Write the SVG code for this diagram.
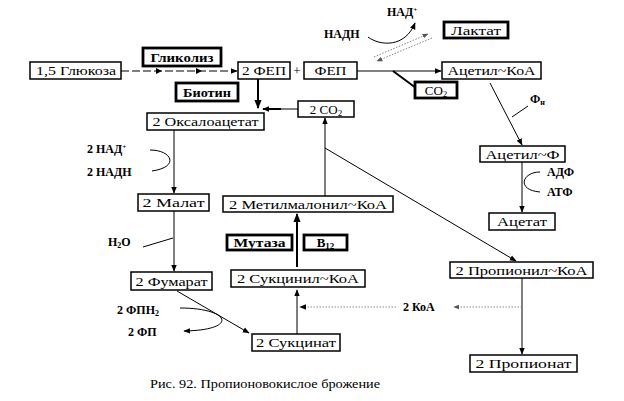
<svg xmlns="http://www.w3.org/2000/svg" width="624" height="401" viewBox="0 0 624 401">
<defs>
<marker id="ah" viewBox="0 0 10 10" refX="9" refY="5" markerWidth="7" markerHeight="7" markerUnits="userSpaceOnUse" orient="auto"><path d="M0,1 L10,5 L0,9 z" fill="#000"/></marker>
<marker id="ahb" viewBox="0 0 10 10" refX="9" refY="5" markerWidth="9" markerHeight="9" markerUnits="userSpaceOnUse" orient="auto"><path d="M0,1 L10,5 L0,9 z" fill="#000"/></marker>
<marker id="ahg" viewBox="0 0 10 10" refX="9" refY="5" markerWidth="6" markerHeight="6" markerUnits="userSpaceOnUse" orient="auto"><path d="M0,1 L10,5 L0,9 z" fill="#555"/></marker>
</defs>
<style>
.b{fill:#fff;stroke:#000;stroke-width:1.5}
.bb{fill:#fff;stroke:#000;stroke-width:2.8}
.t{font-family:"Liberation Serif","Times New Roman",serif;font-size:13px;fill:#000}
.tb{font-family:"Liberation Serif","Times New Roman",serif;font-size:13px;font-weight:bold;fill:#000}
.l{font-family:"Liberation Serif","Times New Roman",serif;font-size:12px;font-weight:bold;fill:#000}
.cap{font-family:"Liberation Serif","Times New Roman",serif;font-size:12.5px;fill:#000}
.c{fill:none;stroke:#000;stroke-width:1}
.ct{fill:none;stroke:#000;stroke-width:2}
.cg{fill:none;stroke:#888;stroke-width:1;stroke-dasharray:1.5 1.5}
</style>
<rect width="624" height="401" fill="#fff"/>
<g id="connectors">
<line class="c" x1="121" y1="71" x2="237" y2="71" stroke-dasharray="8 3" marker-end="url(#ah)"/>
<path d="M156,68 L162,71 L156,74 z M196,68 L202,71 L196,74 z" fill="#000"/>
<line class="ct" x1="258" y1="79" x2="258" y2="108" marker-end="url(#ahb)"/>
<line class="c" x1="298" y1="109" x2="280" y2="109"/>
<line class="ct" x1="281" y1="109" x2="263" y2="109" marker-end="url(#ah)"/>
<line class="c" x1="357" y1="71" x2="441" y2="71" marker-end="url(#ah)"/>
<line class="ct" x1="393" y1="71" x2="416" y2="88"/>
<path class="c" d="M368,37 C380,46 405,48 415,23" marker-end="url(#ah)"/>
<line class="cg" x1="374" y1="57" x2="428" y2="34" marker-end="url(#ahg)"/>
<line class="cg" x1="432" y1="38" x2="377" y2="61" marker-end="url(#ahg)"/>
<line class="c" x1="490" y1="83" x2="522" y2="145" marker-end="url(#ah)"/>
<line class="c" x1="512" y1="117" x2="528" y2="106"/>
<line class="c" x1="522" y1="162" x2="522" y2="212" marker-end="url(#ah)"/>
<path class="c" d="M540,172 C522,172 516,190 540,192"/>
<line class="c" x1="174" y1="130" x2="174" y2="193" marker-end="url(#ah)"/>
<path class="c" d="M150,150 C172,150 180,167 152,171"/>
<line class="c" x1="174" y1="211" x2="174" y2="271" marker-end="url(#ah)"/>
<line class="c" x1="143" y1="247" x2="173" y2="238"/>
<line class="c" x1="177" y1="291" x2="249" y2="333" marker-end="url(#ah)"/>
<path class="c" d="M180,308 C230,308 240,330 184,331" marker-end="url(#ah)"/>
<line class="c" x1="297" y1="334" x2="297" y2="290" marker-end="url(#ah)"/>
<line class="ct" x1="297" y1="267" x2="297" y2="214" marker-end="url(#ahb)"/>
<line class="c" x1="325" y1="196" x2="325" y2="118" marker-end="url(#ah)"/>
<line class="c" x1="325" y1="148" x2="516" y2="261" marker-end="url(#ah)"/>
<line class="c" x1="522" y1="278" x2="522" y2="354" marker-end="url(#ah)"/>
<line class="cg" x1="522" y1="307" x2="454" y2="307" marker-end="url(#ahg)"/>
<line class="cg" x1="396" y1="307" x2="300" y2="307" marker-end="url(#ah)"/>
</g>
<g id="glucose"><rect class="b" x="30" y="62" width="91" height="17"/><text class="t" x="76" y="75" text-anchor="middle" textLength="80" lengthAdjust="spacingAndGlyphs">1,5 Глюкоза</text></g>
<g id="glycolysis"><rect class="bb" x="143" y="48" width="78" height="18"/><text class="tb" x="182" y="61.5" text-anchor="middle" textLength="63" lengthAdjust="spacingAndGlyphs">Гликолиз</text></g>
<g id="pep2"><rect class="b" x="238" y="62" width="52" height="17"/><text class="t" x="264" y="75" text-anchor="middle" textLength="44" lengthAdjust="spacingAndGlyphs">2 ФЕП</text></g>
<text class="t" x="297" y="75" text-anchor="middle">+</text>
<g id="pep"><rect class="b" x="304" y="62" width="53" height="17"/><text class="t" x="330.5" y="75" text-anchor="middle" textLength="32" lengthAdjust="spacingAndGlyphs">ФЕП</text></g>
<g id="biotin"><rect class="bb" x="176" y="83" width="62" height="18"/><text class="tb" x="207" y="96.5" text-anchor="middle" textLength="48" lengthAdjust="spacingAndGlyphs">Биотин</text></g>
<g id="co2a"><rect class="b" x="298" y="101" width="56" height="16"/><text class="t" x="326" y="113.5" text-anchor="middle">2 CO<tspan font-size="9" dy="2">2</tspan></text></g>
<g id="oxaloacetate"><rect class="b" x="147" y="113" width="117" height="17"/><text class="t" x="205.5" y="126" text-anchor="middle" textLength="106" lengthAdjust="spacingAndGlyphs">2 Оксалоацетат</text></g>
<text class="l" x="387" y="16">НАД<tspan font-size="7" dy="-4">+</tspan></text>
<text class="l" x="324" y="38">НАДН</text>
<g id="lactate"><rect class="bb" x="444" y="22" width="64" height="16"/><text class="t" x="476" y="34.5" text-anchor="middle" textLength="50" lengthAdjust="spacingAndGlyphs">Лактат</text></g>
<g id="acetylcoa"><rect class="b" x="442" y="62" width="99" height="17"/><text class="t" x="491.5" y="75" text-anchor="middle" textLength="88" lengthAdjust="spacingAndGlyphs">Ацетил~КоА</text></g>
<g id="co2b"><rect class="bb" x="415" y="82" width="42" height="16"/><text class="t" x="436" y="94.5" text-anchor="middle">CO<tspan font-size="9" dy="2">2</tspan></text></g>
<text class="l" x="530" y="103">Ф<tspan font-size="8" dy="2">н</tspan></text>
<g id="acetylp"><rect class="b" x="480" y="146" width="85" height="16"/><text class="t" x="522.5" y="158.5" text-anchor="middle" textLength="74" lengthAdjust="spacingAndGlyphs">Ацетил~Ф</text></g>
<text class="l" x="547" y="176">АДФ</text>
<text class="l" x="547" y="196">АТФ</text>
<g id="acetate"><rect class="b" x="489" y="213" width="66" height="17"/><text class="t" x="522" y="226" text-anchor="middle" textLength="50" lengthAdjust="spacingAndGlyphs">Ацетат</text></g>
<text class="l" x="87" y="153">2 НАД<tspan font-size="7" dy="-4">+</tspan></text>
<text class="l" x="87" y="176">2 НАДН</text>
<g id="malate"><rect class="b" x="138" y="194" width="71" height="17"/><text class="t" x="173.5" y="207" text-anchor="middle" textLength="62" lengthAdjust="spacingAndGlyphs">2 Малат</text></g>
<g id="methylmalonyl"><rect class="b" x="223" y="196" width="170" height="16"/><text class="t" x="308" y="208.5" text-anchor="middle" textLength="158" lengthAdjust="spacingAndGlyphs">2 Метилмалонил~КоА</text></g>
<text class="l" x="108" y="246">H<tspan font-size="8" dy="2">2</tspan><tspan dy="-2">O</tspan></text>
<g id="mutase"><rect class="bb" x="227" y="235" width="65" height="15"/><text class="tb" x="259.5" y="247" text-anchor="middle" textLength="52" lengthAdjust="spacingAndGlyphs">Мутаза</text></g>
<g id="b12"><rect class="bb" x="304" y="235" width="43" height="15"/><text class="tb" x="325.5" y="247" text-anchor="middle">B<tspan font-size="9" dy="2">12</tspan></text></g>
<g id="succinylcoa"><rect class="b" x="231" y="270" width="134" height="17"/><text class="t" x="298" y="283" text-anchor="middle" textLength="122" lengthAdjust="spacingAndGlyphs">2 Сукцинил~КоА</text></g>
<g id="propionylcoa"><rect class="b" x="450" y="262" width="143" height="16"/><text class="t" x="521.5" y="274.5" text-anchor="middle" textLength="132" lengthAdjust="spacingAndGlyphs">2 Пропионил~КоА</text></g>
<g id="fumarate"><rect class="b" x="131" y="272" width="81" height="18"/><text class="t" x="171.5" y="285.5" text-anchor="middle" textLength="72" lengthAdjust="spacingAndGlyphs">2 Фумарат</text></g>
<text class="l" x="117" y="314">2 ФПН<tspan font-size="8" dy="2">2</tspan></text>
<text class="l" x="128" y="336">2 ФП</text>
<text class="l" x="403" y="311">2 КоА</text>
<g id="succinate"><rect class="b" x="252" y="334" width="88" height="17"/><text class="t" x="296" y="347" text-anchor="middle" textLength="80" lengthAdjust="spacingAndGlyphs">2 Сукцинат</text></g>
<g id="propionate"><rect class="b" x="470" y="355" width="107" height="17"/><text class="t" x="523.5" y="368" text-anchor="middle" textLength="96" lengthAdjust="spacingAndGlyphs">2 Пропионат</text></g>
<text class="cap" x="150" y="388" textLength="230" lengthAdjust="spacingAndGlyphs">Рис. 92. Пропионовокислое брожение</text>
</svg>
